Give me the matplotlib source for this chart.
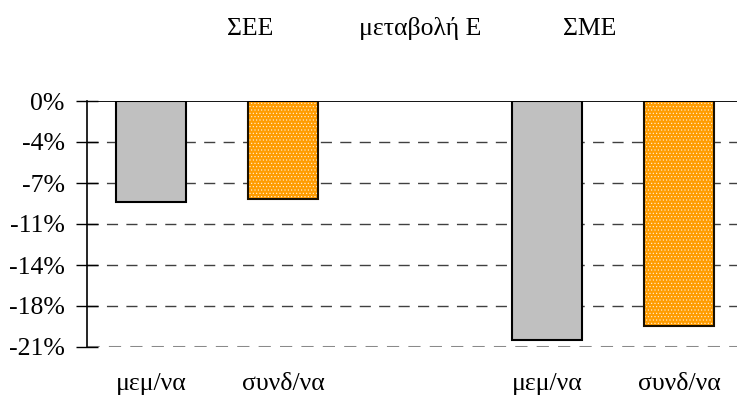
import matplotlib
matplotlib.use("Agg")
import matplotlib.pyplot as plt
import numpy as np

plt.rcParams['font.family'] = ['Liberation Serif', 'DejaVu Serif']

categories = ["μεμ/να", "συνδ/να", "", "μεμ/να", "συνδ/να"]
group_labels = ["ΣΕΕ", "μεταβολή Ε", "ΣΜΕ"]
mem_values = [-8.6, np.nan, np.nan, -20.4, np.nan]      # μεμ/να
synd_values = [np.nan, -8.4, np.nan, np.nan, -19.2]     # συνδ/να
yticks = [0, -3.5, -7, -10.5, -14, -17.5, -21]
ytick_labels = ["0%", "-4%", "-7%", "-11%", "-14%", "-18%", "-21%"]

FS = 18.5
W, H = 737, 398
fig = plt.figure(figsize=(W / 100, H / 100), dpi=100)
ax = fig.add_axes([87 / W, 1 - 347 / H, (W - 87) / W, (347 - 101) / H])

x = np.arange(len(categories))
bw = 70 / 132

# grid lines
for y in yticks[1:]:
    last = y == yticks[-1]
    ax.axhline(y, color="#8a8a8a" if last else "#404040", lw=2.2 if last else 1.0,
               ls=(0, (8, 6)) if not last else (0, (4, 3)), zorder=0)

ax.bar(x, mem_values, width=bw, color="#C0C0C0", edgecolor="black", lw=1.5, zorder=2)
plt.rcParams['hatch.linewidth'] = 0.4
ax.bar(x, synd_values, width=bw, color="#FF9C00", edgecolor="#FFF4E0", lw=0,
       hatch=".....", zorder=2)
ax.bar(x, synd_values, width=bw, color="none", edgecolor="#1a1000", lw=1.5, zorder=3)

ax.axhline(0, color="black", lw=1.3, zorder=4)

ax.set_xlim(-64 / 132, (W - 87 - 64) / 132)
ax.set_ylim(-21, 0)
ax.set_yticks(yticks)
ax.set_yticklabels(ytick_labels, fontsize=FS)
ax.tick_params(axis='y', direction='inout', length=16, width=1, pad=8)
ax.set_xticks([])
for s in ["top", "right", "bottom"]:
    ax.spines[s].set_visible(False)
ax.spines["left"].set_linewidth(1.2)

for xi, lab in zip(x, categories):
    ax.text(xi, -21 - 37 / 246 * 21, lab, ha="center", va="center", fontsize=FS)

for xc, lab in zip([250, 420, 590], group_labels):
    fig.text(xc / W, 1 - 29 / H, lab, ha="center", va="center", fontsize=FS)

fig.savefig("out.png", dpi=100)
